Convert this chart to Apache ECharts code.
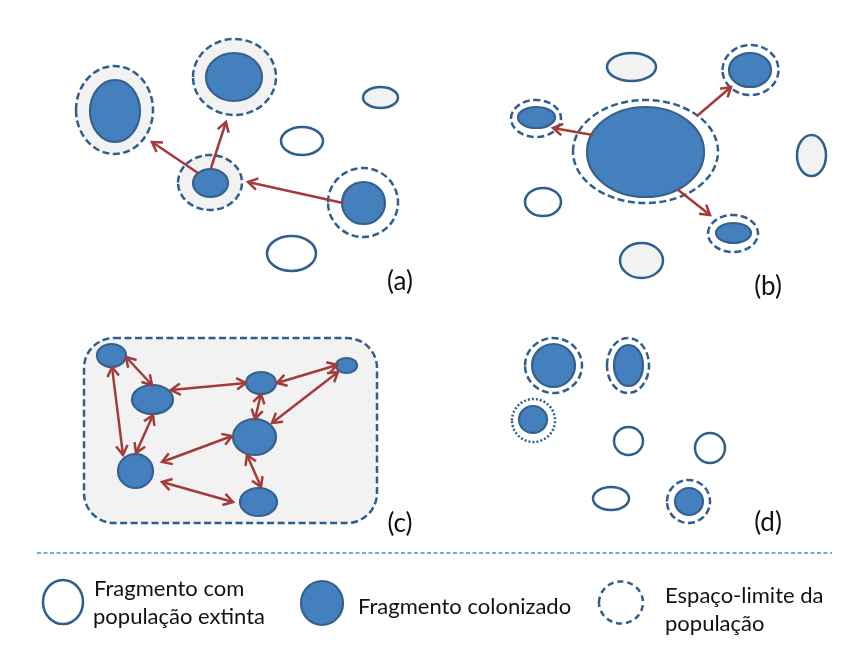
<!DOCTYPE html>
<html><head><meta charset="utf-8">
<script src="https://cdn.jsdelivr.net/npm/echarts@6/dist/echarts.min.js"></script>
<style>html,body{margin:0;padding:0;background:#fff}#c{width:857px;height:648px}</style>
</head><body><div id="c"></div>
<script>
// Patches: [cx, cy, rx, ry] in diagram units
const extinctPatches = [[302,141,21,14],[291.5,253.5,24.5,17.5],[543,202,18,14],[628.5,441,14.5,14],[710,448,15,15],[611,498.5,18,11.5],[63,602,20,22]];
const emptyGrayPatches = [[380.5,97.5,17.5,10.5],[631.5,67,24.5,14],[811.5,155.5,14.5,20.5],[641.5,260.5,21.5,17.5]];
const limitGray = [[114.5,110,38.5,44],[234.5,77,41.5,38],[210,182.5,32,27.5]];
const limitWhite = [[363,202.5,35,34.5],[645.5,151.5,72.5,51.5],[750.5,70,28,25],[536,118.5,25,18.5],[733,233.5,25,18.5],[553.5,365.5,28.5,27.5],[628,365.5,21,27.5],[688.5,501.5,21.5,21.5]];
const limitDotted = [[533.5,420.5,21.5,21.5]];
const legendLimit = [[621,602.5,22,21]];
const colonized = [[115,111,25,31],[234,77,28,24],[210.5,183,17.5,14],[363.5,203,21.5,21],
  [645.5,152,58.5,45],[750,70,21,17],[536.5,117.5,18.5,10.5],[733.5,233,17.5,10],
  [111.5,355.5,14.5,11.5],[152.5,399.5,20.5,14.5],[261,383,15,11],[346.5,365.5,10.5,7.5],[254.5,437,21.5,18],[135.5,471,17.5,17],[258.5,502,18.5,14],
  [553.5,365.5,21.5,21.5],[628.5,365.5,14.5,20.5],[533,419.5,14,13.5],[689,501.5,14,13.5],
  [322,603,21,22]];
// Arrows: [x1, y1, x2, y2]
const arrows = [[198,173,152,142],[211,168,226,122],[343,203,248,182],[593,135,553,128],[697,116,731,87],[677,189,710,215]];
const doubleArrows = [[126,357,152,385],[112,367,123,455],[153,415,136,453],[171,390,246,383],[277,383,337,365],[261,394,255,419],[272,423,338,372],[162,462,232,436],[162,482,233,502],[247,455,261,487]];
const metapopBox = [[84,338,377,523]];
const separator = [[37,553,832,553]];
const panelLabels = [['(a)',400,282],['(b)',768,287],['(c)',400,524],['(d)',768,523]];
const legendTexts = [['Fragmento com',94,589],['população extinta',93,617],['Fragmento colonizado',358,607],['Espaço-limite da',665,596],['população',665,624]];

const BLUE_STROKE = '#2f5f8e';
const FILL_BLUE = '#4480bd';
const GRAY = '#f2f2f2';
const RED = '#a33b3b';

function ellipseSeries(data, style, z) {
  return {type:'custom', coordinateSystem:'cartesian2d', data, z, silent:true, animation:false,
    renderItem:(params, api) => {
      const c = api.coord([api.value(0), api.value(1)]);
      const s = api.size([api.value(2), api.value(3)]);
      return {type:'ellipse', shape:{cx:c[0], cy:c[1], rx:Math.abs(s[0]), ry:Math.abs(s[1])}, style};
    }};
}
function head(tip, from) {
  const a = Math.atan2(tip[1]-from[1], tip[0]-from[0]);
  const L = 11, w = 0.55;
  return {type:'polyline', shape:{points:[[tip[0]-L*Math.cos(a-w), tip[1]-L*Math.sin(a-w)], tip, [tip[0]-L*Math.cos(a+w), tip[1]-L*Math.sin(a+w)]]},
    style:{stroke:RED, lineWidth:2.5, fill:'none', lineJoin:'miter'}};
}
function arrowSeries(data, both) {
  return {type:'custom', coordinateSystem:'cartesian2d', data, z:10, silent:true, animation:false,
    renderItem:(params, api) => {
      const p1 = api.coord([api.value(0), api.value(1)]);
      const p2 = api.coord([api.value(2), api.value(3)]);
      const ch = [{type:'line', shape:{x1:p1[0], y1:p1[1], x2:p2[0], y2:p2[1]}, style:{stroke:RED, lineWidth:2.5}}, head(p2, p1)];
      if (both) ch.push(head(p1, p2));
      return {type:'group', children:ch};
    }};
}
function textSeries(data, font, align) {
  return {type:'custom', coordinateSystem:'cartesian2d', data: data.map(d => [d[1], d[2], d[0]]), z:20, silent:true, animation:false,
    dimensions:['x','y',{name:'t', type:'ordinal'}],
    renderItem:(params, api) => {
      const d = data[params.dataIndex];
      const p = api.coord([d[1], d[2]]);
      return {type:'text', x:p[0], y:p[1], style:{text:d[0], font, fill:'#111', align, verticalAlign:'middle'}};
    }};
}

const chart = echarts.init(document.getElementById('c'));
chart.setOption({
  animation:false,
  grid:{left:0, right:0, top:0, bottom:0},
  xAxis:{type:'value', min:0, max:857, show:false},
  yAxis:{type:'value', min:0, max:648, inverse:true, show:false},
  series:[
    {type:'custom', coordinateSystem:'cartesian2d', data:metapopBox, z:1, silent:true,
      renderItem:(params, api) => {
        const a = api.coord([api.value(0), api.value(1)]);
        const b = api.coord([api.value(2), api.value(3)]);
        return {type:'rect', shape:{x:a[0], y:a[1], width:b[0]-a[0], height:b[1]-a[1], r:30},
          style:{fill:GRAY, stroke:BLUE_STROKE, lineWidth:2.5, lineDash:[7,3.5]}};
      }},
    {type:'custom', coordinateSystem:'cartesian2d', data:separator, z:1, silent:true,
      renderItem:(params, api) => {
        const a = api.coord([api.value(0), api.value(1)]);
        const b = api.coord([api.value(2), api.value(3)]);
        return {type:'line', shape:{x1:a[0], y1:a[1], x2:b[0], y2:b[1]}, style:{stroke:'#4a8ad0', lineWidth:1.3, lineDash:[4,2.5]}};
      }},
    ellipseSeries(limitGray, {fill:GRAY, stroke:BLUE_STROKE, lineWidth:2.5, lineDash:[7,3.5]}, 2),
    ellipseSeries(limitWhite, {fill:'#fff', stroke:BLUE_STROKE, lineWidth:2.5, lineDash:[7,3.5]}, 2),
    ellipseSeries(limitDotted, {fill:'#fff', stroke:BLUE_STROKE, lineWidth:2.5, lineDash:[2,2]}, 2),
    ellipseSeries(legendLimit, {fill:'#fff', stroke:BLUE_STROKE, lineWidth:2.5, lineDash:[6,4]}, 2),
    ellipseSeries(extinctPatches, {fill:'#fff', stroke:BLUE_STROKE, lineWidth:2.5}, 3),
    ellipseSeries(emptyGrayPatches, {fill:GRAY, stroke:BLUE_STROKE, lineWidth:2.5}, 3),
    ellipseSeries(colonized, {fill:FILL_BLUE, stroke:'#36618e', lineWidth:2.2}, 3),
    arrowSeries(arrows, false),
    arrowSeries(doubleArrows, true),
    textSeries(panelLabels, '26px Lato', 'center'),
    textSeries(legendTexts, '22px Lato', 'left')
  ]
});
</script>
</body></html>
